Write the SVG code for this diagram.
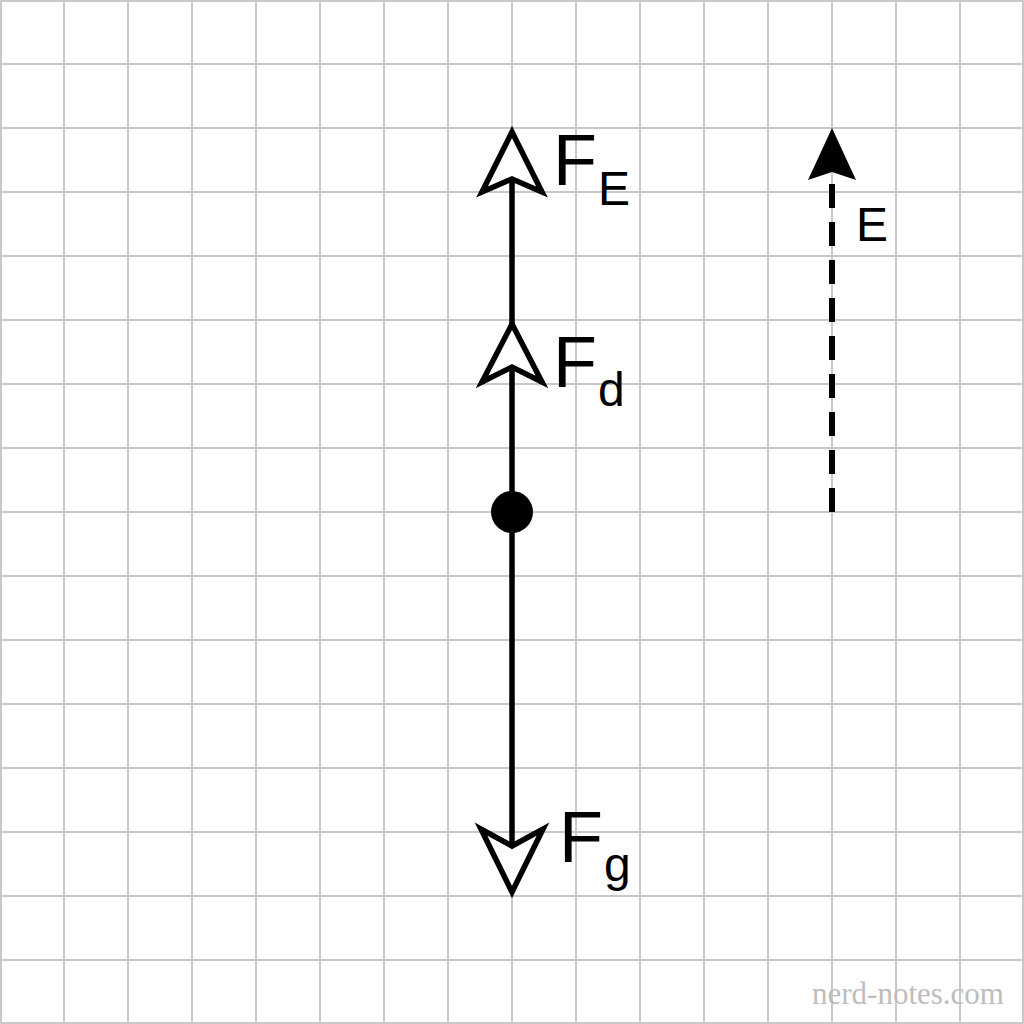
<svg xmlns="http://www.w3.org/2000/svg" width="1024" height="1024" viewBox="0 0 1024 1024">
<defs>
<style>
.grid line{stroke:#c8c8c8;stroke-width:2}
.vec{stroke:#000;stroke-width:5.5;fill:none}
.head{fill:#fff;stroke:#000;stroke-width:5.5;stroke-linejoin:miter}
.lbl{font-family:"Liberation Sans",Arial,sans-serif;fill:#000}
.big{font-size:72px}
.sub{font-size:48px}
.wm{font-family:"Liberation Serif","Times New Roman",serif;font-size:31px;fill:#bdbdbd}
</style>
</defs>
<rect width="1024" height="1024" fill="#fff"/>
<g class="grid" id="grid">
<line x1="1" y1="0" x2="1" y2="1024"/><line x1="64" y1="0" x2="64" y2="1024"/><line x1="128" y1="0" x2="128" y2="1024"/><line x1="192" y1="0" x2="192" y2="1024"/><line x1="256" y1="0" x2="256" y2="1024"/><line x1="320" y1="0" x2="320" y2="1024"/><line x1="384" y1="0" x2="384" y2="1024"/><line x1="448" y1="0" x2="448" y2="1024"/><line x1="512" y1="0" x2="512" y2="1024"/><line x1="576" y1="0" x2="576" y2="1024"/><line x1="640" y1="0" x2="640" y2="1024"/><line x1="704" y1="0" x2="704" y2="1024"/><line x1="768" y1="0" x2="768" y2="1024"/><line x1="832" y1="0" x2="832" y2="1024"/><line x1="896" y1="0" x2="896" y2="1024"/><line x1="960" y1="0" x2="960" y2="1024"/><line x1="1023" y1="0" x2="1023" y2="1024"/>
<line y1="1" x1="0" y2="1" x2="1024"/><line y1="64" x1="0" y2="64" x2="1024"/><line y1="128" x1="0" y2="128" x2="1024"/><line y1="192" x1="0" y2="192" x2="1024"/><line y1="256" x1="0" y2="256" x2="1024"/><line y1="320" x1="0" y2="320" x2="1024"/><line y1="384" x1="0" y2="384" x2="1024"/><line y1="448" x1="0" y2="448" x2="1024"/><line y1="512" x1="0" y2="512" x2="1024"/><line y1="576" x1="0" y2="576" x2="1024"/><line y1="640" x1="0" y2="640" x2="1024"/><line y1="704" x1="0" y2="704" x2="1024"/><line y1="768" x1="0" y2="768" x2="1024"/><line y1="832" x1="0" y2="832" x2="1024"/><line y1="896" x1="0" y2="896" x2="1024"/><line y1="960" x1="0" y2="960" x2="1024"/><line y1="1023" x1="0" y2="1023" x2="1024"/>
</g>
<g id="connectors">
<line class="vec" x1="512" y1="180" x2="512" y2="845"/>
<line id="E-field" x1="832" y1="512" x2="832" y2="176" stroke="#000" stroke-width="6" stroke-dasharray="24 14"/>
</g>
<g id="FE">
<polygon class="head" points="512,132 542,192 512,179 482,192"/>
<text class="lbl big" x="553" y="185">F</text>
<text class="lbl sub" x="598" y="205">E</text>
</g>
<g id="Fd">
<polygon class="head" points="512,324 542,382 512,367 482,382"/>
<text class="lbl big" x="553" y="387">F</text>
<text class="lbl sub" x="598" y="406">d</text>
</g>
<g id="charge">
<circle cx="512" cy="512" r="21" fill="#000"/>
</g>
<g id="Fg">
<polygon class="head" points="512,892 543,829 512,846 481,829"/>
<text class="lbl big" x="559" y="862">F</text>
<text class="lbl sub" x="604" y="881">g</text>
</g>
<g id="E">
<polygon points="832,128 856,180 832,172 808,180" fill="#000"/>
<text class="lbl sub" x="856" y="241">E</text>
</g>
<text class="wm" x="812" y="1004">nerd-notes.com</text>
</svg>
